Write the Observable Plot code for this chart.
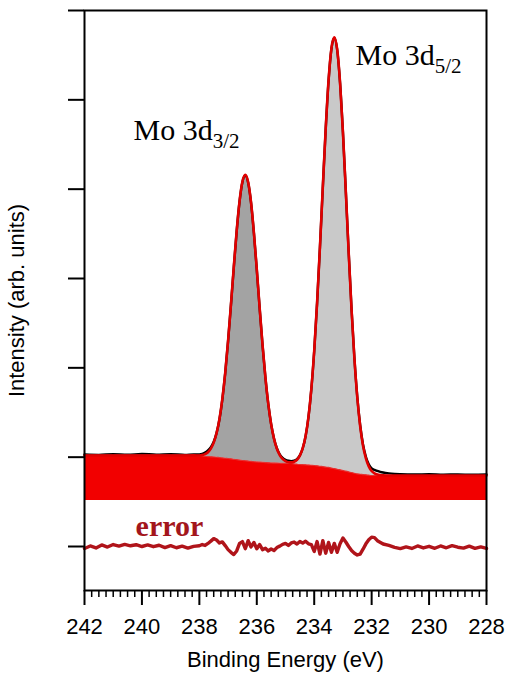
<!DOCTYPE html>
<html>
<head>
<meta charset="utf-8">
<script src="https://cdn.jsdelivr.net/npm/d3@7"></script>
<script src="https://cdn.jsdelivr.net/npm/@observablehq/plot@0.6"></script>
<style>
  html, body { margin: 0; padding: 0; background: #fff; }
  #chart svg { display: block; }
</style>
</head>
<body>
<div id="chart"></div>
<script>
// ---- Data (binding energy in eV, intensity in tick units) ----
const energy = [
  242, 241.5, 241, 240.5, 240, 239.5, 239, 238.5, 238.2,
  238.0, 237.9, 237.8, 237.7, 237.6, 237.5, 237.4, 237.3, 237.2, 237.1,
  237.0, 236.9, 236.8, 236.7, 236.6, 236.5, 236.4, 236.3, 236.2, 236.1,
  236.0, 235.9, 235.8, 235.7, 235.6, 235.5, 235.4, 235.3, 235.2, 235.1,
  235.0, 234.9, 234.8, 234.7, 234.6, 234.5, 234.4, 234.3, 234.2, 234.1,
  234.0, 233.9, 233.8, 233.7, 233.6, 233.5, 233.4, 233.3, 233.2, 233.1,
  233.0, 232.9, 232.8, 232.7, 232.6, 232.5, 232.4, 232.3, 232.2, 232.1,
  232.0, 231.9, 231.8, 231.7, 231.6, 231.4, 231.2, 231.0, 230.5, 230.0,
  229.5, 229.0, 228.5, 228.0
];
// background (Shirley-type) level
const background = [
  1.019, 1.019, 1.019, 1.019, 1.019, 1.019, 1.019, 1.019, 1.019,
  1.013, 1.011, 1.009, 1.006, 1.004, 1.002, 0.999, 0.995, 0.992, 0.988,
  0.985, 0.981, 0.976, 0.972, 0.967, 0.963, 0.960, 0.956, 0.953, 0.949,
  0.946, 0.944, 0.942, 0.940, 0.937, 0.935, 0.934, 0.933, 0.932, 0.930,
  0.929, 0.927, 0.925, 0.922, 0.920, 0.918, 0.916, 0.914, 0.911, 0.909,
  0.907, 0.903, 0.898, 0.894, 0.889, 0.885, 0.878, 0.871, 0.865, 0.858,
  0.851, 0.843, 0.835, 0.828, 0.820, 0.812, 0.809, 0.805, 0.802, 0.798,
  0.795, 0.795, 0.795, 0.795, 0.795, 0.795, 0.795, 0.795, 0.795, 0.795,
  0.795, 0.795, 0.795, 0.795
];
// Mo 3d3/2 component (height above background)
const peak32 = [
  0, 0, 0, 0, 0, 0, 0, 0, 0.001,
  0.006, 0.012, 0.025, 0.049, 0.092, 0.161, 0.271, 0.433, 0.659, 0.954,
  1.316, 1.726, 2.156, 2.562, 2.899, 3.122, 3.200, 3.122, 2.899, 2.562,
  2.156, 1.726, 1.316, 0.954, 0.659, 0.433, 0.271, 0.161, 0.092, 0.049,
  0.025, 0.012, 0.006, 0.003, 0.001, 0, 0, 0, 0, 0,
  0, 0, 0, 0, 0, 0, 0, 0, 0, 0,
  0, 0, 0, 0, 0, 0, 0, 0, 0, 0,
  0, 0, 0, 0, 0, 0, 0, 0, 0, 0,
  0, 0, 0, 0
];
// Mo 3d5/2 component (height above background)
const peak52 = [
  0, 0, 0, 0, 0, 0, 0, 0, 0,
  0, 0, 0, 0, 0, 0, 0, 0, 0, 0,
  0, 0, 0, 0, 0, 0, 0, 0, 0, 0,
  0, 0, 0, 0, 0, 0, 0, 0, 0, 0.001,
  0.002, 0.005, 0.011, 0.024, 0.050, 0.099, 0.184, 0.323, 0.540, 0.856,
  1.284, 1.825, 2.457, 3.134, 3.787, 4.335, 4.701, 4.830, 4.701, 4.335,
  3.787, 3.134, 2.457, 1.825, 1.284, 0.856, 0.540, 0.323, 0.184, 0.099,
  0.050, 0.024, 0.011, 0.005, 0.002, 0, 0, 0, 0, 0,
  0, 0, 0, 0
];
// measured spectrum
const measured = [
  1.030, 1.026, 1.034, 1.027, 1.036, 1.028, 1.033, 1.026, 1.031,
  1.030, 1.036, 1.052, 1.075, 1.112, 1.172, 1.272, 1.424, 1.648, 1.940,
  2.298, 2.705, 3.128, 3.530, 3.862, 4.080, 4.152, 4.072, 3.850, 3.508,
  3.100, 2.668, 2.256, 1.893, 1.596, 1.370, 1.210, 1.100, 1.032, 0.992,
  0.970, 0.960, 0.956, 0.960, 0.978, 1.020, 1.100, 1.235, 1.448, 1.762,
  2.188, 2.725, 3.352, 4.025, 4.672, 5.214, 5.572, 5.694, 5.560, 5.190,
  4.640, 3.980, 3.296, 2.658, 2.110, 1.676, 1.360, 1.142, 1.005, 0.920,
  0.875, 0.858, 0.846, 0.836, 0.828, 0.818, 0.812, 0.809, 0.806, 0.809,
  0.804, 0.807, 0.803, 0.806
];
const bandBottom = 0.515;

// residual ("error") curve
const errEnergy = [
  242.0, 241.8, 241.6, 241.4, 241.2, 241.0, 240.8, 240.6, 240.4, 240.2,
  240.0, 239.8, 239.6, 239.4, 239.2, 239.0, 238.8, 238.6, 238.4, 238.2,
  238.0, 237.9, 237.8, 237.7, 237.6, 237.5, 237.4, 237.3, 237.2, 237.1,
  237.0, 236.9, 236.8, 236.7, 236.6, 236.5, 236.4, 236.3, 236.2, 236.1,
  236.0, 235.9, 235.8, 235.7, 235.6, 235.5, 235.4, 235.3, 235.2, 235.1,
  235.0, 234.9, 234.8, 234.7, 234.6, 234.5, 234.4, 234.3, 234.2, 234.1,
  234.0, 233.9, 233.8, 233.7, 233.6, 233.5, 233.4, 233.3, 233.2, 233.1,
  233.0, 232.9, 232.8, 232.7, 232.6, 232.5, 232.4, 232.3, 232.2, 232.1,
  232.0, 231.9, 231.8, 231.6, 231.4, 231.2, 231.0, 230.8, 230.6, 230.4,
  230.2, 230.0, 229.8, 229.6, 229.4, 229.2, 229.0, 228.8, 228.6, 228.4,
  228.2, 228.0
];
const errValue = [
  -0.022, 0.006, -0.016, 0.018, -0.006, 0.022, 0.004, 0.024, 0.008, 0.020,
  0.000, 0.018, -0.002, 0.014, -0.012, 0.010, -0.014, 0.004, -0.018, 0.002,
  0.008, 0.022, 0.012, 0.034, 0.060, 0.088, 0.072, 0.040, 0.052, 0.010,
  -0.035, -0.065, -0.090, -0.050, 0.035, 0.055, -0.025, 0.065, -0.005, 0.045,
  -0.025, 0.022, -0.035, -0.020, -0.050, -0.028, -0.045, -0.012, 0.004, 0.024,
  0.034, 0.012, 0.040, 0.050, 0.028, 0.056, 0.038, 0.060, 0.030, 0.022,
  -0.055, 0.055, -0.085, 0.065, -0.075, 0.045, -0.065, 0.035, -0.065, 0.030,
  0.095, 0.050, 0.000, -0.045, -0.075, -0.095, -0.085, -0.030, 0.030, 0.075,
  0.105, 0.100, 0.065, 0.028, 0.012, -0.010, -0.024, -0.004, -0.022, 0.006,
  -0.016, 0.002, -0.020, 0.006, -0.014, 0.010, -0.008, -0.018, 0.004, -0.020,
  -0.004, -0.022
];

// ticks and texts
const xTicks = [242, 240, 238, 236, 234, 232, 230, 228];
const yTicks = [0, 1, 2, 3, 4, 5, 6];
const xTitle = "Binding Energy (eV)";
const yTitle = "Intensity (arb. units)";
const peakLabelText = ["Mo 3d|3/2", "Mo 3d|5/2"];
const peakLabelEnergy = [240.29, 232.56];
const peakLabelIntensity = [4.545, 5.385];
const errorLabelText = ["error"];
const errorLabelEnergy = [240.22];
const errorLabelIntensity = [0.123];

// ---- tables built from the arrays ----
const spec = energy.map((e, i) => ({
  e,
  bg: background[i],
  c32: background[i] + peak32[i],
  c52: background[i] + peak52[i],
  env: background[i] + peak32[i] + peak52[i],
  meas: measured[i]
}));
const err = errEnergy.map((e, i) => ({e, v: errValue[i]}));
const peakLabels = peakLabelText.map((t, i) => ({t, e: peakLabelEnergy[i], v: peakLabelIntensity[i]}));
const errLabels = errorLabelText.map((t, i) => ({t, e: errorLabelEnergy[i], v: errorLabelIntensity[i]}));
const minorTicks = d3.range(228, 242.001, 0.25).filter(v => Math.abs(v / 2 - Math.round(v / 2)) > 1e-6);

const serif = "'Liberation Serif', 'Times New Roman', Times, serif";
const sans = "'Liberation Sans', Arial, Helvetica, sans-serif";

const chart = Plot.plot({
  width: 506,
  height: 677,
  marginLeft: 84,
  marginRight: 20,
  marginTop: 10,
  marginBottom: 87,
  style: {fontFamily: sans, fontSize: "22px", color: "black", background: "white", overflow: "visible"},
  x: {domain: [242, 228], label: null},
  y: {domain: [-0.4925, 6], label: null},
  marks: [
    Plot.areaY(spec, {x: "e", y1: () => bandBottom, y2: "bg", fill: "#f20000", curve: "monotone-x"}),
    Plot.areaY(spec, {x: "e", y1: "bg", y2: "c32", fill: "#a3a3a3", curve: "monotone-x"}),
    Plot.areaY(spec, {x: "e", y1: "bg", y2: "c52", fill: "#c9c9c9", curve: "monotone-x"}),
    Plot.line(spec, {x: "e", y: "meas", stroke: "black", strokeWidth: 2.4, curve: "monotone-x"}),
    Plot.line(spec, {x: "e", y: "c32", stroke: "#e63030", strokeWidth: 1.2, curve: "monotone-x"}),
    Plot.line(spec, {x: "e", y: "c52", stroke: "#e63030", strokeWidth: 1.2, curve: "monotone-x"}),
    Plot.line(spec, {x: "e", y: "env", stroke: "#e00000", strokeWidth: 2.6, curve: "monotone-x"}),
    Plot.line(err, {x: "e", y: "v", stroke: "#b0141a", strokeWidth: 3.4}),
    Plot.text(peakLabels, {x: "e", y: "v", text: "t", textAnchor: "start", lineAnchor: "bottom",
      fontFamily: serif, fontSize: 30, fill: "black"}),
    Plot.text(errLabels, {x: "e", y: "v", text: "t", textAnchor: "start", lineAnchor: "bottom",
      fontFamily: serif, fontSize: 30, fontWeight: "bold", fill: "#a3161c"}),
    Plot.frame({stroke: "black", strokeWidth: 2}),
    Plot.axisY(yTicks, {tickSize: 16, tickFormat: () => "", strokeWidth: 2, label: null}),
    Plot.axisX(xTicks, {tickSize: 15, tickPadding: 13, strokeWidth: 2, fontSize: 22, label: null}),
    Plot.axisX(minorTicks, {tickSize: 7, tickFormat: () => "", strokeWidth: 1.5, label: null}),
    Plot.text([xTitle], {frameAnchor: "bottom", dy: 69, text: d => d, fontSize: 22, lineAnchor: "middle", textAnchor: "middle"}),
    Plot.text([yTitle], {frameAnchor: "left", dx: -68, rotate: -90, text: d => d, fontSize: 22, lineAnchor: "middle", textAnchor: "middle"})
  ]
});

// subscripts for the peak labels
d3.select(chart).selectAll("text").each(function () {
  const t = this.textContent;
  if (t.includes("|")) {
    const [main, sub] = t.split("|");
    this.textContent = main;
    d3.select(this).append("tspan").attr("dy", 8).attr("font-size", 21).text(sub);
  }
});

document.getElementById("chart").appendChild(chart);
</script>
</body>
</html>
